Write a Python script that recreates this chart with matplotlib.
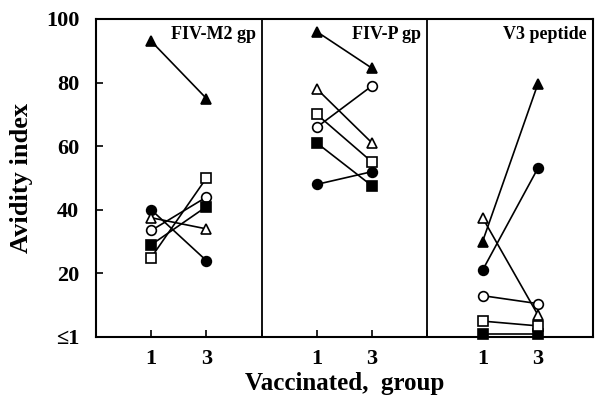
import matplotlib
matplotlib.use("Agg")
import matplotlib.pyplot as plt

plt.rcParams['font.family'] = ['Liberation Serif', 'DejaVu Serif']
plt.rcParams['font.weight'] = 'bold'

panels = ["FIV-M2 gp", "FIV-P gp", "V3 peptide"]
groups = ["1", "3"]

# (marker, filled) for each animal series
styles = [("^", True), ("o", True), ("^", False), ("o", False), ("s", True), ("s", False)]

# avidity values per panel, same series order as styles: [group1, group3]
m2_vals = [[93, 75], [40, 24], [37.5, 34], [33.5, 44], [29, 41], [25, 50]]
p_vals = [[96, 84.5], [48, 52], [78, 61], [66, 79], [61, 47.5], [70, 55]]
v3_vals = [[30, 79.5], [21, 53], [37.5, 7], [13, 10.5], [1, 1], [5, 3.5]]
all_vals = [m2_vals, p_vals, v3_vals]

fig = plt.figure(figsize=(5.95, 3.99), dpi=100)
ax = fig.add_axes([96/595, 1-337/399, 497/595, 318/399])

for i, vals in enumerate(all_vals):
    xs = [3*i + 1, 3*i + 2]
    for (mk, filled), v in zip(styles, vals):
        ax.plot(xs, v, color="black", lw=1.2, marker=mk, markersize=7,
                markerfacecolor="black" if filled else "white",
                markeredgecolor="black", markeredgewidth=1.2, clip_on=False, zorder=3)
    ax.text(3*i + 2.89, 95, panels[i], ha="right", va="center", fontsize=13, fontweight="bold")

for xd in [3, 6]:
    ax.axvline(xd, color="black", lw=1.3)

ax.set_xlim(0, 9)
ax.set_ylim(0, 100)
ax.set_xticks([1, 2, 3, 4, 5, 6, 7, 8])
ax.set_xticklabels(["1", "3", "", "1", "3", "", "1", "3"])
ax.set_yticks([0, 20, 40, 60, 80, 100])
ax.set_yticklabels(["≤1", "20", "40", "60", "80", "100"])
ax.tick_params(direction="in", length=5, width=1.2, labelsize=16)
ax.tick_params(axis="y", pad=12)
ax.tick_params(axis="x", pad=9)
for lab in ax.get_xticklabels() + ax.get_yticklabels():
    lab.set_fontweight("bold")
for s in ax.spines.values():
    s.set_linewidth(1.5)

ax.set_xlabel("Vaccinated,  group", fontsize=18, fontweight="bold", labelpad=2)
ax.set_ylabel("Avidity index", fontsize=19, fontweight="bold", labelpad=9)

fig.savefig("out.png", dpi=100)
